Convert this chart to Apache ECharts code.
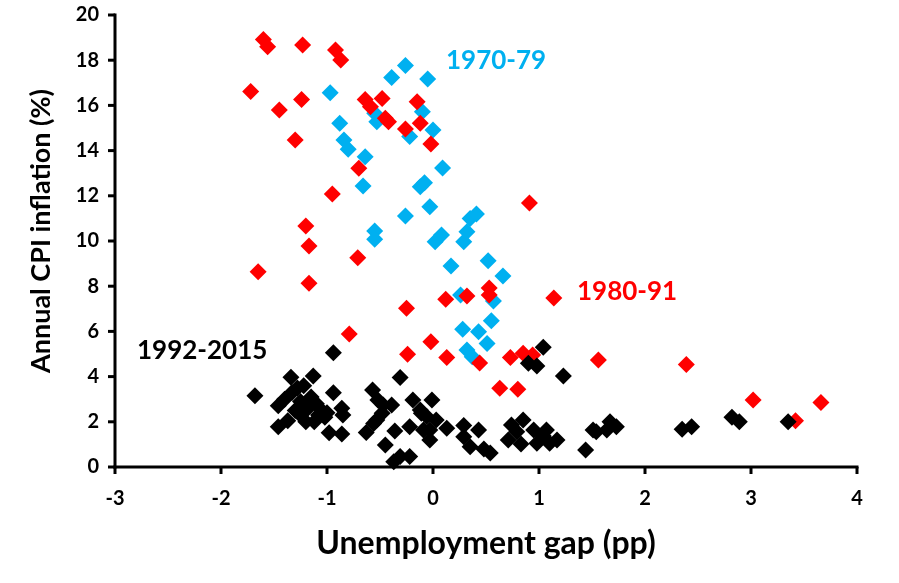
<!DOCTYPE html>
<html>
<head>
<meta charset="utf-8">
<script src="https://cdn.jsdelivr.net/npm/echarts@6/dist/echarts.min.js"></script>
<style>html,body{margin:0;padding:0;background:#fff;}#c{width:899px;height:583px;}</style>
</head>
<body>
<div id="c"></div>
<script>
// Series 1970-79: [unemployment gap (pp), CPI inflation (%)]
var s1970 = [
  [-0.26,17.76],[-0.39,17.23],[-0.05,17.17],[-0.97,16.56],[-0.55,15.65],[-0.53,15.28],
  [-0.10,15.72],[-0.88,15.21],[-0.22,14.62],[0.00,14.91],[-0.84,14.47],[-0.80,14.06],
  [-0.64,13.73],[0.09,13.23],[-0.66,12.43],[-0.12,12.40],[-0.08,12.58],[-0.03,11.52],
  [-0.26,11.11],[0.35,11.00],[0.41,11.19],[-0.55,10.44],[-0.55,10.08],[0.02,9.97],
  [0.08,10.27],[0.29,9.97],[0.32,10.41],[0.17,8.89],[0.52,9.13],[0.66,8.45],
  [0.26,7.61],[0.57,7.35],[0.55,6.47],[0.28,6.09],[0.43,5.99],[0.51,5.47],
  [0.32,5.18],[0.37,4.88]
];
// Series 1980-91
var s1980 = [
  [-1.60,18.92],[-1.56,18.60],[-1.23,18.67],[-0.92,18.45],[-0.87,18.01],[-1.72,16.61],
  [-1.45,15.80],[-1.24,16.26],[-1.30,14.47],[-0.64,16.26],[-0.59,15.94],[-0.48,16.31],
  [-0.45,15.43],[-0.42,15.28],[-0.15,16.16],[-0.12,15.21],[-0.26,14.96],[-0.02,14.29],
  [-0.70,13.22],[-0.95,12.08],[0.91,11.68],[-1.20,10.66],[-1.17,9.78],[-1.65,8.64],
  [-1.17,8.13],[-0.71,9.26],[0.12,7.42],[0.32,7.57],[0.53,7.92],[0.53,7.61],
  [1.14,7.48],[-0.25,7.02],[-0.79,5.88],[-0.02,5.54],[-0.24,4.99],[0.13,4.84],
  [0.44,4.60],[0.73,4.84],[0.85,5.03],[0.94,4.96],[0.63,3.48],[0.80,3.44],
  [1.56,4.73],[2.39,4.54],[3.02,2.96],[3.66,2.85],[3.42,2.05]
];
// Series 1992-2015
var s1992 = [
  [-1.68,3.15],[-1.34,3.97],[-1.13,4.03],[-0.94,3.29],[-1.46,2.71],[-1.46,1.78],
  [-1.37,2.05],[-0.86,2.60],[-0.85,2.30],[-0.98,1.52],[-0.86,1.46],[-0.94,5.06],
  [-1.33,3.30],[-1.28,3.50],[-1.25,2.90],[-1.22,3.60],[-1.18,2.60],[-1.15,3.10],
  [-1.10,2.80],[-1.08,2.30],[-1.05,2.50],[-1.02,2.20],[-1.00,2.40],[-1.30,2.50],
  [-1.20,2.00],[-1.12,2.00],[-1.25,2.30],[-1.40,3.00],
  [-0.31,3.96],[-0.57,3.41],[-0.52,2.96],[-0.47,2.74],[-0.39,2.74],[-0.48,2.38],
  [-0.53,2.08],[-0.56,1.93],[-0.63,1.53],[-0.19,2.96],[-0.01,2.96],[-0.11,2.38],
  [0.03,2.08],[-0.36,1.59],[-0.22,1.78],[-0.03,1.64],[-0.03,1.19],[0.13,1.71],
  [0.29,1.84],[0.43,1.64],[0.29,1.34],[0.35,0.90],[0.48,0.80],[-0.45,0.97],
  [-0.31,0.46],[-0.22,0.46],[-0.37,0.23],[-0.12,2.52],[-0.06,2.23],[-0.09,1.64],
  [0.54,0.62],
  [1.04,5.30],[0.90,4.59],[0.98,4.47],[1.23,4.03],[0.74,1.86],[0.85,2.08],
  [0.79,1.56],[0.71,1.19],[0.83,1.02],[0.95,1.64],[1.07,1.64],[0.98,1.05],
  [1.10,1.05],[1.17,1.19],[1.04,1.37],[1.44,0.75],[1.51,1.64],[1.54,1.56],
  [1.64,1.64],[1.67,2.00],[1.73,1.78],[2.35,1.67],[2.44,1.78],[2.82,2.20],
  [2.89,2.00],[3.35,2.00]
];
var xTicks = [-3,-2,-1,0,1,2,3,4];
var yTicks = [0,2,4,6,8,10,12,14,16,18,20];

var FONT = 'Lato';
var chart = echarts.init(document.getElementById('c'), null, {renderer:'canvas'});
function ser(name, data, color){
  return {name:name, type:'scatter', data:data, symbol:'diamond', symbolSize:17,
    itemStyle:{color:color, opacity:1}, emphasis:{disabled:true}, animation:false};
}
var xMin = xTicks[0], xMax = xTicks[xTicks.length-1];
var yMin = yTicks[0], yMax = yTicks[yTicks.length-1];
chart.setOption({
  animation:false,
  backgroundColor:'#fff',
  grid:{left:115, right:42, top:15, bottom:116},
  xAxis:{type:'value', min:xMin, max:xMax, interval:1,
    name:'Unemployment gap (pp)', nameLocation:'middle', nameGap:61,
    nameTextStyle:{fontFamily:FONT, fontWeight:'bold', fontSize:32, color:'#000'},
    axisLine:{show:false, onZero:false},
    axisTick:{show:false},
    axisLabel:{fontFamily:FONT, fontWeight:'bold', fontSize:20, color:'#000', margin:22},
    splitLine:{show:false}},
  yAxis:{type:'value', min:yMin, max:yMax, interval:2,
    name:'Annual CPI inflation (%)', nameLocation:'middle', nameGap:60,
    nameTextStyle:{fontFamily:FONT, fontWeight:'bold', fontSize:27, color:'#000', padding:[0,0,0,20]},
    axisLine:{show:false, onZero:false},
    axisTick:{show:false},
    axisLabel:{fontFamily:FONT, fontWeight:'bold', fontSize:20, color:'#000', margin:16},
    splitLine:{show:false}},
  series:[ser('1970-79', s1970, '#00B0F0'), ser('1980-91', s1980, '#FF0000'), ser('1992-2015', s1992, '#000000')]
});

// axis lines and ticks drawn from the axes' own scale
var g = [];
var AX = {stroke:'#000', lineWidth:3};
var o = chart.convertToPixel({gridIndex:0}, [xMin, yMin]);
var xe = chart.convertToPixel({gridIndex:0}, [xMax, yMin]);
var ye = chart.convertToPixel({gridIndex:0}, [xMin, yMax]);
g.push({type:'line', z:10, shape:{x1:o[0]-1.5, y1:o[1], x2:xe[0]+1.5, y2:xe[1]}, style:AX});
g.push({type:'line', z:10, shape:{x1:o[0], y1:o[1]+1.5, x2:ye[0], y2:ye[1]-1.5}, style:AX});
xTicks.forEach(function(v){
  var p = chart.convertToPixel({gridIndex:0}, [v, yMin]);
  g.push({type:'line', z:10, shape:{x1:p[0], y1:p[1], x2:p[0], y2:p[1]+7}, style:AX});
});
yTicks.forEach(function(v){
  var p = chart.convertToPixel({gridIndex:0}, [xMin, v]);
  g.push({type:'line', z:10, shape:{x1:p[0]-7, y1:p[1], x2:p[0], y2:p[1]}, style:AX});
});
g.push({type:'text', left:446, top:48, style:{text:'1970-79', fill:'#00B0F0', font:'bold 26px '+FONT}});
g.push({type:'text', left:577, top:279, style:{text:'1980-91', fill:'#FF0000', font:'bold 26px '+FONT}});
g.push({type:'text', left:137, top:338, style:{text:'1992-2015', fill:'#000000', font:'bold 26px '+FONT}});
chart.setOption({graphic:g});
</script>
</body>
</html>
